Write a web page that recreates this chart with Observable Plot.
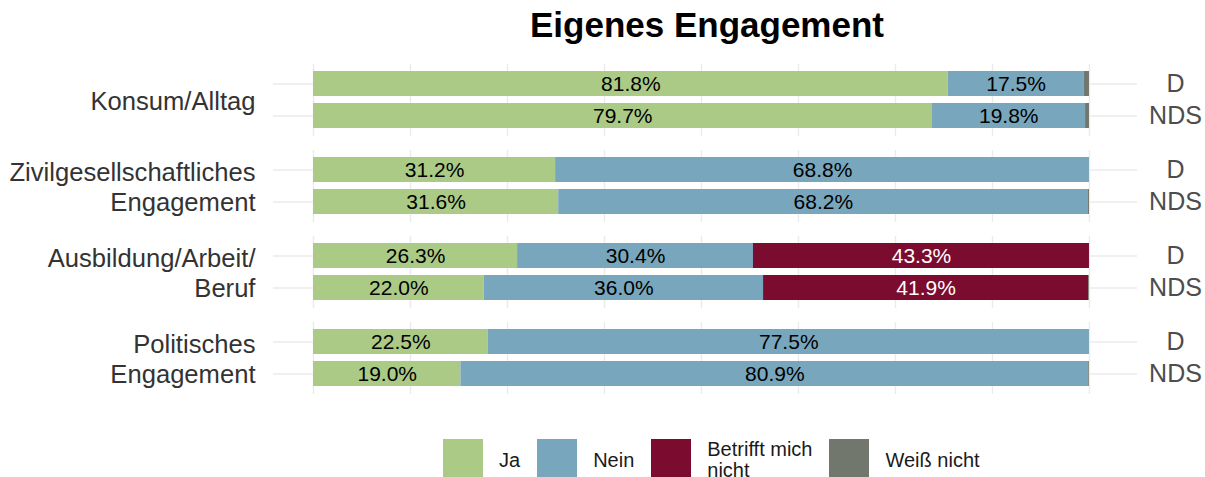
<!DOCTYPE html>
<html>
<head>
<meta charset="utf-8">
<script src="https://cdn.jsdelivr.net/npm/d3@7"></script>
<script src="https://cdn.jsdelivr.net/npm/@observablehq/plot@0.6"></script>
<style>
  html, body { margin: 0; padding: 0; background: #fff; }
  body { width: 1205px; height: 477px; position: relative; overflow: hidden; font-family: "Liberation Sans", Arial, sans-serif; }
  #title { position: absolute; left: 0; top: 0; width: 1414px; height: 50px; line-height: 50px; text-align: center; font-size: 35px; font-weight: bold; color: #000; }
  #chart { position: absolute; left: 0; top: 50px; }
  #legend { position: absolute; left: 443px; top: 439px; display: flex; align-items: flex-start; font-size: 20px; color: #1a1a1a; }
  .sw { width: 40px; height: 40px; flex: none; }
  .lab { margin-left: 16px; margin-right: 17px; line-height: 21px; display: flex; align-items: center; height: 40px; padding-top: 1px; white-space: pre; }
</style>
</head>
<body>
<div id="title">Eigenes Engagement</div>
<div id="chart"></div>
<div id="legend"></div>
<script>
const categories = ["Konsum/Alltag", "Zivilgesellschaftliches\nEngagement", "Ausbildung/Arbeit/\nBeruf", "Politisches\nEngagement"];
const regions = ["D", "NDS"];
const responses = ["Ja", "Nein", "Betrifft mich nicht", "Weiß nicht"];
const legendLabels = ["Ja", "Nein", "Betrifft mich\nnicht", "Weiß nicht"];
const colors = ["#abca86", "#78a6bd", "#7b0c2f", "#71776c"];
// bar order: Konsum D, Konsum NDS, Zivil D, Zivil NDS, Ausbildung D, Ausbildung NDS, Politisch D, Politisch NDS
const ja       = [81.8, 79.7, 31.2, 31.6, 26.3, 22.0, 22.5, 19.0];
const nein     = [17.5, 19.8, 68.8, 68.2, 30.4, 36.0, 77.5, 80.9];
const betrifft = [0, 0, 0, 0, 43.3, 41.9, 0, 0];
const weiss    = [0.7, 0.5, 0, 0.2, 0, 0.1, 0, 0.1];
const gridTicks = [0, 12.5, 25, 37.5, 50, 62.5, 75, 87.5, 100];

const series = [ja, nein, betrifft, weiss];
const data = [];
categories.forEach((cat, ci) => {
  regions.forEach((reg, ri) => {
    const i = ci * 2 + ri;
    responses.forEach((resp, k) => {
      data.push({cat, region: reg, resp, value: series[k][i]});
    });
  });
});

const fmt = d => d.value.toFixed(1) + "%";

const chart = Plot.plot({
  width: 1205,
  height: 375,
  marginTop: 13,
  marginBottom: 30,
  marginLeft: 273,
  marginRight: 68,
  style: {fontFamily: "'Liberation Sans', Arial, sans-serif", fontSize: "20px", background: "white"},
  x: {domain: [-5.155, 106.19], axis: null},
  y: {domain: regions, paddingInner: 0.21, paddingOuter: 0.21, label: null, axis: null},
  fy: {domain: categories, paddingInner: 0.157, paddingOuter: 0, label: null, axis: null},
  color: {domain: responses, range: colors},
  marks: [
    Plot.gridY({stroke: "#ebebeb", strokeOpacity: 1, strokeWidth: 1.6}),
    Plot.ruleX(gridTicks, {x: d => d, stroke: "#ebebeb", strokeOpacity: 1, strokeWidth: 1.4}),
    Plot.barX(data, Plot.stackX({x: "value", y: "region", fy: "cat", fill: "resp", z: "resp", order: responses})),
    Plot.text(data, Plot.stackX({
      x: "value", y: "region", fy: "cat", z: "resp", order: responses,
      text: d => (d.resp !== "Betrifft mich nicht" && d.value >= 5) ? fmt(d) : null,
      fill: "#000", fontSize: 21
    })),
    Plot.text(data, Plot.stackX({
      x: "value", y: "region", fy: "cat", z: "resp", order: responses,
      text: d => (d.resp === "Betrifft mich nicht" && d.value >= 5) ? fmt(d) : null,
      fill: "#fff", fontSize: 21
    })),
    Plot.axisY({anchor: "right", tickSize: 0, tickPadding: 38, textAnchor: "middle", fontSize: 25, fill: "#4d4d4d", label: null}),
    Plot.axisFy({anchor: "left", tickSize: 0, tickPadding: 18, fontSize: 25.6, lineHeight: 1.15, fill: "#333", label: null})
  ]
});
document.getElementById("chart").appendChild(chart);

const legend = document.getElementById("legend");
responses.forEach((r, i) => {
  const sw = document.createElement("div");
  sw.className = "sw";
  sw.style.background = colors[i];
  legend.appendChild(sw);
  const lab = document.createElement("div");
  lab.className = "lab";
  lab.textContent = legendLabels[i];
  legend.appendChild(lab);
});
</script>
</body>
</html>
